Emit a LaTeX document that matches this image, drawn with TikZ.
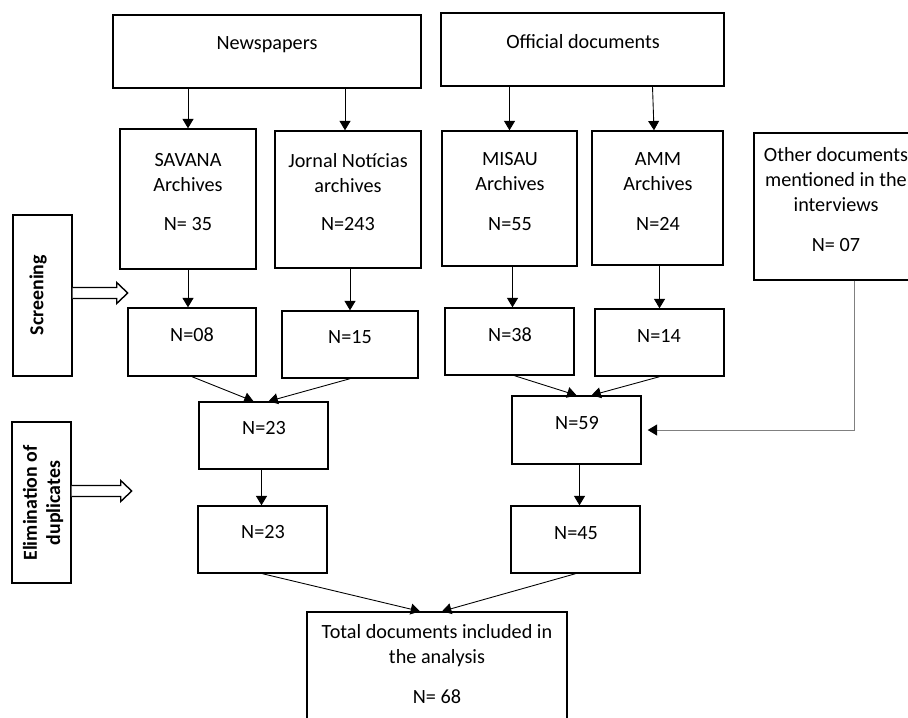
\documentclass[tikz,border=0pt]{standalone}
\usepackage{fontspec}
\setmainfont{Carlito}
\usetikzlibrary{fit,arrows.meta}

\begin{document}
\begin{tikzpicture}[x=0.02cm, y=-0.02cm,
		box/.style={draw, line width=0.8pt, inner sep=0pt},
		txt/.style={align=center, inner sep=0pt, font=\fontsize{11.5}{14.2}\selectfont},
		side/.style={rotate=90, align=center, inner sep=0pt, font=\fontsize{11.3}{13.2}\selectfont\bfseries},
		arr/.style={-{Triangle[length=5.3pt,width=6.2pt]}, line width=0.5pt},
		hollow/.style={draw, line width=0.8pt, fill=white}]
				\clip (0,0) rectangle (908,717);
				% sources
				\node[box, fit={(113,15) (421,88)}] (news) {};
				\node[box, fit={(441,13) (724,86)}] (offi) {};
				\node[txt] (news-t) at (267,45) {Newspapers};
				\node[txt] (offi-t) at (583,42) {Official documents};
				% archives
				\node[box, fit={(120,129) (256,269)}] (savana) {};
				\node[box, fit={(275,131) (421,268)}] (jornal) {};
				\node[box, fit={(442,131) (577,266)}] (misau) {};
				\node[box, fit={(592,131) (723,265)}] (amm) {};
				\node[box, fit={(754,133) (918,280)}] (other) {};
				\node[txt] (savana-t) at (188,172.5) {SAVANA\\Archives};
				\node[txt] (jornal-t) at (348,173.5) {Jornal Not\'icias\\archives};
				\node[txt] (misau-t) at (510,171.5) {MISAU\\Archives};
				\node[txt] (amm-t) at (658,171.5) {AMM\\Archives};
				\node[txt] (other-t) at (836,180) {Other documents\\mentioned in the\\interviews};
				\node[txt] (savana-n) at (188,224) {N= 35};
				\node[txt] (jornal-n) at (348,224) {N=243};
				\node[txt] (misau-n) at (510,224) {N=55};
				\node[txt] (amm-n) at (658,224) {N=24};
				\node[txt] (other-n) at (836,245) {N= 07};
				% screening
				\node[box, fit={(128,308) (256,376)}] (s08) {};
				\node[box, fit={(282,311) (418,378)}] (s15) {};
				\node[box, fit={(445,308) (574,375)}] (s38) {};
				\node[box, fit={(595,309) (724,376)}] (s14) {};
				\node[txt] (s08-t) at (192,335) {N=08};
				\node[txt] (s15-t) at (350,337) {N=15};
				\node[txt] (s38-t) at (510,335) {N=38};
				\node[txt] (s14-t) at (659,336) {N=14};
				% merged
				\node[box, fit={(199,402) (328,469)}] (d23) {};
				\node[box, fit={(512,396) (641,464)}] (d59) {};
				\node[txt] (d23-t) at (264,428) {N=23};
				\node[txt] (d59-t) at (577,423) {N=59};
				% duplicates removed
				\node[box, fit={(198,506) (327,573)}] (e23) {};
				\node[box, fit={(511,506) (640,573)}] (e45) {};
				\node[txt] (e23-t) at (263,532) {N=23};
				\node[txt] (e45-t) at (576,533) {N=45};
				% total
				\node[box, fit={(307,612) (567,740)}] (total) {};
				\node[txt] (total-t) at (437,646) {Total documents included in\\the analysis};
				\node[txt] (total-n) at (437,697) {N= 68};
				% stage labels
				\node[box, fit={(13,215) (72,376)}] (screen) {};
				\node[side] (screen-t) at (38,295) {Screening};
				\node[box, fit={(12,422) (71,583)}] (elim) {};
				\node[side] (elim-t) at (43,503) {Elimination of\\duplicates};
				\draw[hollow] (screen.east) ++(0,-8) -- ++(44,0) -- ++(0,-5) -- ++(11,10.5) -- ++(-11,10.5) -- ++(0,-5) -- ++(-44,0);
				\draw[hollow] (elim.east) ++(0,-17) -- ++(49,0) -- ++(0,-5) -- ++(11,10.5) -- ++(-11,10.5) -- ++(0,-5) -- ++(-49,0);
				% connectors
				\draw[arr] (savana.north |- news.south) -- (savana.north);
				\draw[arr] ([xshift=-0.06cm]jornal.north |- news.south) -- ([xshift=-0.06cm]jornal.north);
				\draw[arr] (misau.north |- offi.south) -- (misau.north);
				\draw[arr] ([xshift=-0.1cm]amm.north |- offi.south) -- ([xshift=-0.07cm]amm.north);
				\draw[arr] (savana.south) -- (savana.south |- s08.north);
				\draw[arr] (s15.north |- jornal.south) -- (s15.north);
				\draw[arr] ([xshift=0.06cm]misau.south) -- ([xshift=0.06cm]misau.south |- s38.north);
				\draw[arr] (s14.north |- amm.south) -- (s14.north);
				\draw[arr] (s08.south) -- ([xshift=-0.2cm]d23.north);
				\draw[arr] (s15.south) -- ([xshift=0.1cm]d23.north);
				\draw[arr] ([xshift=0.1cm]s38.south) -- (d59.north);
				\draw[arr] (s14.south) -- ([xshift=0.3cm]d59.north);
				\draw[arr, draw=black!50, -{Triangle[length=5.3pt,width=6.2pt,color=black]}] ([xshift=0.36cm]other.south) |- ([xshift=0.12cm]d59.east);
				\draw[arr] ([xshift=-0.04cm]d23.south) -- ([xshift=-0.04cm]d23.south |- e23.north);
				\draw[arr] ([xshift=0.06cm]d59.south) -- ([xshift=0.06cm]d59.south |- e45.north);
				\draw[arr] (e23.south) -- ([xshift=-0.34cm]total.north);
				\draw[arr] (e45.south) -- ([xshift=0.1cm]total.north);
\end{tikzpicture}
\end{document}
